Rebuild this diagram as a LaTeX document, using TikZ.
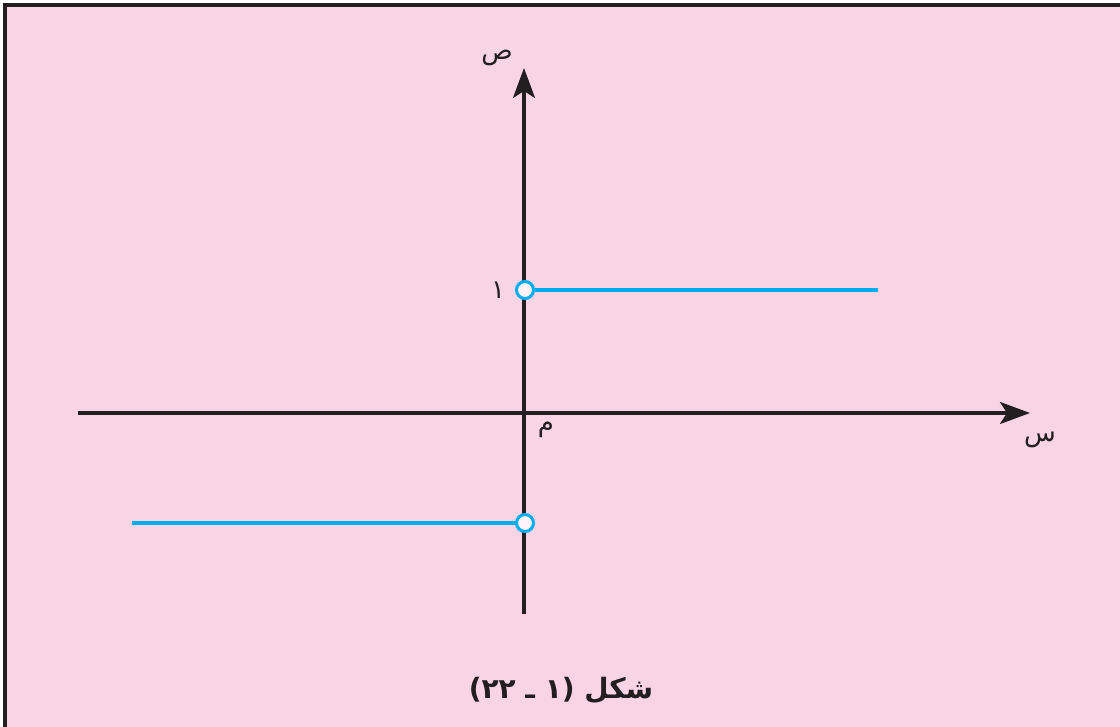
\documentclass[tikz,border=0pt]{standalone}
\usepackage{fontspec}
\usetikzlibrary{arrows.meta}
\newfontfamily\arabicfont[Script=Arabic]{DejaVu Sans}
\TeXXeTstate=1
\definecolor{bgpink}{HTML}{F9D4E5}
\definecolor{axisdark}{HTML}{231F20}
\definecolor{graphblue}{HTML}{00AEEF}
\tikzset{
  axisline/.style={draw=axisdark, line width=3.4pt, -{Stealth[length=30pt,width=22pt,inset=7pt]}},
  graphline/.style={draw=graphblue, line width=3.8pt},
  opendot/.style={circle, draw=graphblue, line width=3pt, fill=white!70!bgpink, minimum size=17pt, inner sep=0pt},
  lbl/.style={font=\arabicfont\fontsize{26}{30}\selectfont, text=axisdark, inner sep=0pt},
  captionlbl/.style={font=\arabicfont\bfseries\fontsize{28}{32}\selectfont, text=axisdark, inner sep=0pt}
}
\begin{document}
\begin{tikzpicture}[x=1pt,y=-1pt]
\useasboundingbox (0,0) rectangle (1120,727);
\fill[white] (0,0) rectangle (1120,727);
\fill[bgpink] (5,5) rectangle (1120,727);
\draw[axisdark, line width=4pt] (5,727) -- (5,5) -- (1120,5);

\coordinate (xstart) at (78,413);
\coordinate (xend) at (1030,413);
\coordinate (ystart) at (524,614);
\coordinate (yend) at (524,68);
\coordinate (upend) at (878,290);
\coordinate (lowstart) at (132,523);

\draw[axisline] (xstart) -- (xend);
\draw[axisline] (ystart) -- (yend);

\node[opendot] (dotup) at (525,290) {};
\node[opendot] (dotlow) at (525,523) {};
\draw[graphline] (dotup) -- (upend);
\draw[graphline] (lowstart) -- (dotlow);

\node[lbl] (one) at (498,290) {\beginR ١\endR};
\node[lbl] (origin) at (546,430) {\beginR م\endR};
\node[lbl] (ylabel) at (497,58) {\beginR ص\endR};
\node[lbl] (xlabel) at (1040,440) {\beginR س\endR};
\node[captionlbl] (cap) at (561,690) {\beginR شكل (١ ـ ٢٢)\endR};
\end{tikzpicture}
\end{document}
